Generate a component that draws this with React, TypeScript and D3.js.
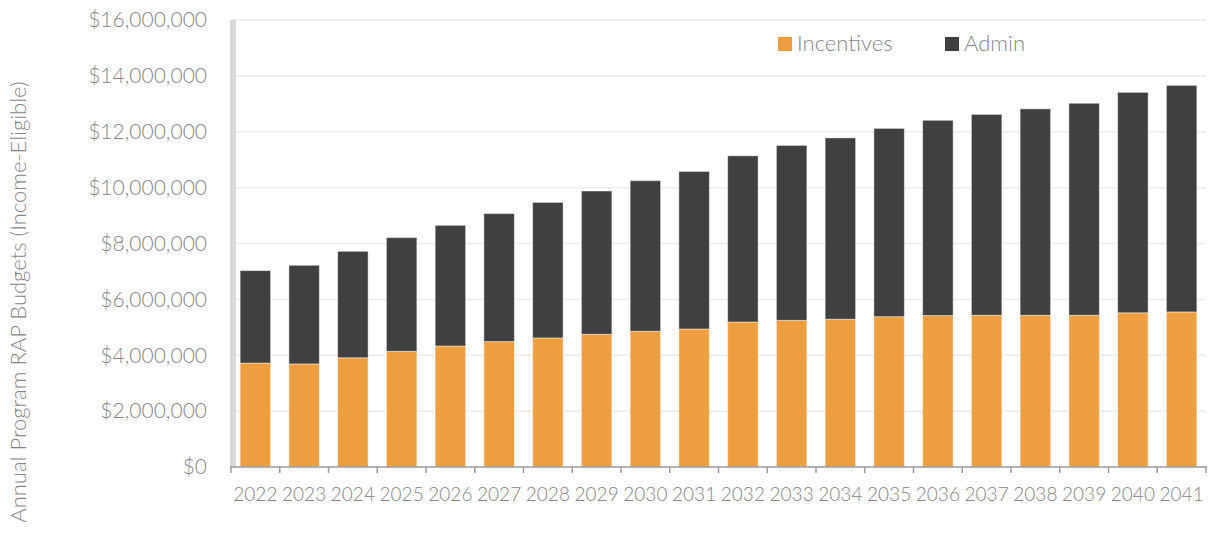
import React from "react";
import * as d3 from "d3";

const years = ["2022","2023","2024","2025","2026","2027","2028","2029","2030","2031","2032","2033","2034","2035","2036","2037","2038","2039","2040","2041"];
const incentives = [3720000,3690000,3910000,4140000,4330000,4490000,4620000,4750000,4860000,4940000,5190000,5250000,5290000,5380000,5420000,5430000,5430000,5430000,5520000,5550000];
const admin = [3310000,3530000,3810000,4070000,4320000,4580000,4850000,5130000,5390000,5640000,5950000,6260000,6490000,6740000,6990000,7190000,7390000,7590000,7890000,8110000];
const yTicks = [0,2000000,4000000,6000000,8000000,10000000,12000000,14000000,16000000];
const seriesNames = ["Incentives","Admin"];
const colors = ["#ED9E3F","#404040"];

const W = 1213, H = 533;
const FONT = "Lato, 'Open Sans', sans-serif";
const TXT = "#868686";

export default function App() {
  const x = d3.scaleBand<string>().domain(years).range([231, 1206]).paddingInner(0.375).paddingOuter(0.1875);
  const y = d3.scaleLinear().domain([0, 16000000]).range([467, 20]);
  const xt = d3.scaleBand<string>().domain(years).range([231, 1206]);
  const fmt = (v: number) => "$" + d3.format(",")(v);
  const rows = years.map((yr, i) => ({ yr, Incentives: incentives[i], Admin: admin[i] }));
  const stacked = d3.stack<any>().keys(seriesNames)(rows);

  return (
    <svg width={W} height={H} style={{ position: "absolute", left: 0, top: 0, background: "#fff" }} fontFamily={FONT} fontWeight={300}>
      {yTicks.map((t) => (
        <g key={t}>
          {t > 0 && <line x1={231} x2={1206} y1={y(t)} y2={y(t)} stroke="#ebebeb" strokeWidth={1.5} />}
          <text x={207} y={y(t)} dy="0.35em" textAnchor="end" fontSize={21} fill={TXT}>{fmt(t)}</text>
        </g>
      ))}
      <rect x={230} y={20} width={6} height={447} fill="#d9d9d9" />
      {stacked.map((s, si) => (
        <g key={si} fill={colors[si]}>
          {s.map((d, i) => (
            <rect key={i} x={x(years[i])} width={x.bandwidth()} y={y(d[1])} height={y(d[0]) - y(d[1])}
              stroke="#ffffff" strokeOpacity={0.45} strokeWidth={1} />
          ))}
        </g>
      ))}
      <line x1={230} x2={1207} y1={467} y2={467} stroke="#9a9a9a" strokeWidth={1.5} />
      {years.concat(["end"]).map((yr, i) => {
        const px = 231 + i * xt.step();
        return <line key={yr} x1={px} x2={px} y1={467} y2={473} stroke="#9a9a9a" strokeWidth={1.5} />;
      })}
      {years.map((yr) => (
        <text key={yr} x={(xt(yr) as number) + xt.bandwidth() / 2} y={501} textAnchor="middle" fontSize={19} fill={TXT}>{yr}</text>
      ))}
      <text transform={`translate(26,302) rotate(-90)`} textAnchor="middle" fontSize={22} fill={TXT}>Annual Program RAP Budgets (Income-Eligible)</text>
      {seriesNames.map((n, i) => {
        const lx = [778, 945][i];
        return (
          <g key={n}>
            <rect x={lx} y={37} width={14} height={14} fill={colors[i]} />
            <text x={lx + 19} y={51} fontSize={22} fill={TXT}>{n}</text>
          </g>
        );
      })}
    </svg>
  );
}
